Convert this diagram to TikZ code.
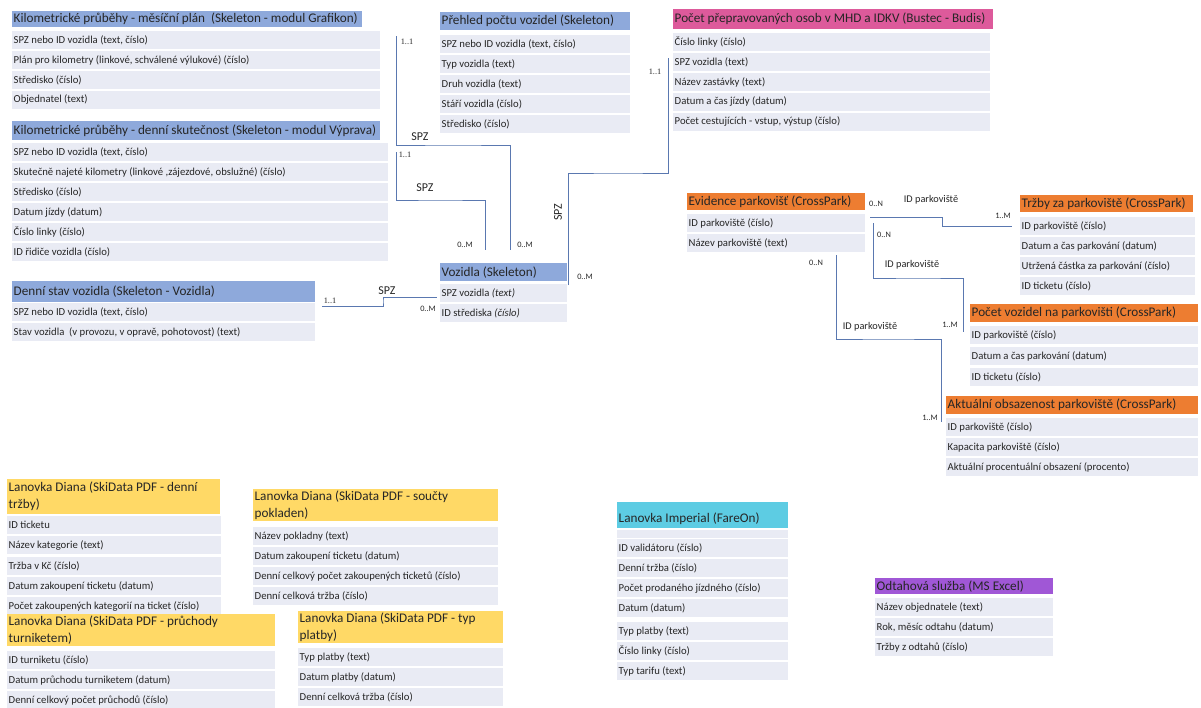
\documentclass[tikz,border=0pt]{standalone}
\usepackage{fontspec}
\setmainfont{Carlito}
\newfontfamily\myserif{Liberation Serif}
\definecolor{blueh}{HTML}{8EA9DB}
\definecolor{pinkh}{HTML}{DD5A9B}
\definecolor{orangeh}{HTML}{ED7D31}
\definecolor{yellowh}{HTML}{FFD966}
\definecolor{cyanh}{HTML}{5DCCE3}
\definecolor{purpleh}{HTML}{A057D6}
\definecolor{rowc}{HTML}{E9EBF4}
\definecolor{linec}{HTML}{5A78B0}
\definecolor{txt}{HTML}{262626}
\newcommand\myhfont{\fontsize{13.2}{17}\selectfont}
\newcommand\myrfont{\fontsize{10.7}{12}\selectfont}
\newcommand\hcell[7]{%
  \node[cellbox,fill=#6,minimum width=#4pt,minimum height=#5pt] (#1) at (#2,#3) {};
  \node[celltext,font=\myhfont] (#1t) at (#1.west) {#7};}
\newcommand\rcell[5]{%
  \node[cellbox,anchor=west,fill=rowc,minimum width=#4pt,minimum height=18.5pt] (#1) at (#2,#3) {};
  \node[celltext,font=\myrfont] (#1t) at (#1.west) {#5};}
\begin{document}
\begin{tikzpicture}[x=1pt,y=-1pt,
  cellbox/.style={rectangle,anchor=north west,inner sep=0pt,draw=none},
  celltext/.style={anchor=west,inner xsep=1.5pt,inner ysep=0pt,align=left,text=txt},
  conn/.style={draw=linec,line width=0.9pt},
  card/.style={font=\fontsize{8.3}{9}\selectfont,text=txt,inner sep=0pt},
  cards/.style={font=\fontsize{8.3}{9}\myserif\selectfont,text=txt,inner sep=0pt},
  rel/.style={font=\fontsize{12}{13}\selectfont,text=txt,inner sep=0pt},
  rels/.style={font=\fontsize{10.3}{11}\selectfont,text=txt,inner sep=0pt}]
\useasboundingbox (0,0) rectangle (1201,707);
\fill[white] (0,0) rectangle (1201,707);

% T1
\hcell{ta}{12}{10.5}{350}{16.5}{blueh}{Kilometrické průběhy - měsíční plán\ \ (Skeleton - modul Grafikon)}
\rcell{ta1}{12}{40}{368}{SPZ nebo ID vozidla (text, číslo)}
\rcell{ta2}{12}{60}{368}{Plán pro kilometry (linkové, schválené výlukové) (číslo)}
\rcell{ta3}{12}{80}{368}{Středisko (číslo)}
\rcell{ta4}{12}{100}{368}{Objednatel (text)}
% T2
\hcell{tb}{12}{121}{368}{19}{blueh}{Kilometrické průběhy - denní skutečnost (Skeleton - modul Výprava)}
\rcell{tb1}{12}{152}{376}{SPZ nebo ID vozidla (text, číslo)}
\rcell{tb2}{12}{172}{376}{Skutečně najeté kilometry (linkové ,zájezdové, obslužné) (číslo)}
\rcell{tb3}{12}{192}{376}{Středisko (číslo)}
\rcell{tb4}{12}{212}{376}{Datum jízdy (datum)}
\rcell{tb5}{12}{232}{376}{Číslo linky (číslo)}
\rcell{tb6}{12}{252}{376}{ID řidiče vozidla (číslo)}
% T3
\hcell{tc}{440}{12}{190}{18}{blueh}{Přehled počtu vozidel (Skeleton)}
\rcell{tc1}{440}{44}{190}{SPZ nebo ID vozidla (text, číslo)}
\rcell{tc2}{440}{64}{190}{Typ vozidla (text)}
\rcell{tc3}{440}{84}{190}{Druh vozidla (text)}
\rcell{tc4}{440}{104}{190}{Stáří vozidla (číslo)}
\rcell{tc5}{440}{124}{190}{Středisko (číslo)}
% T4
\hcell{td}{440}{263}{127}{18}{blueh}{Vozidla (Skeleton)}
\rcell{td1}{440}{293}{127}{SPZ vozidla \textit{(text)}}
\rcell{td2}{440}{313}{127}{ID střediska \textit{(číslo)}}
% T5
\hcell{te}{673}{9}{320}{20}{pinkh}{Počet přepravovaných osob v MHD a IDKV (Bustec - Budis)}
\rcell{te1}{673}{42}{317}{Číslo linky (číslo)}
\rcell{te2}{673}{62}{317}{SPZ vozidla (text)}
\rcell{te3}{673}{82}{317}{Název zastávky (text)}
\rcell{te4}{673}{102}{317}{Datum a čas jízdy (datum)}
\rcell{te5}{673}{122}{317}{Počet cestujících - vstup, výstup (číslo)}
% T6
\hcell{tf}{12}{281}{303}{21}{blueh}{Denní stav vozidla (Skeleton - Vozidla)}
\rcell{tf1}{12}{312}{303}{SPZ nebo ID vozidla (text, číslo)}
\rcell{tf2}{12}{332}{303}{Stav vozidla\ \ (v provozu, v opravě, pohotovost) (text)}
% T7
\hcell{tg}{7}{479}{213}{35}{yellowh}{Lanovka Diana (SkiData PDF - denní\\tržby)}
\rcell{tg1}{7}{525}{214}{ID ticketu}
\rcell{tg2}{7}{545}{214}{Název kategorie (text)}
\rcell{tg3}{7}{566}{214}{Tržba v Kč (číslo)}
\rcell{tg4}{7}{586}{214}{Datum zakoupení ticketu (datum)}
\rcell{tg5}{7}{606}{214}{Počet zakoupených kategorií na ticket (číslo)}
% T8
\hcell{th}{7}{614}{268}{32}{yellowh}{Lanovka Diana (SkiData PDF - průchody\\turniketem)}
\rcell{th1}{7}{660}{268}{ID turniketu (číslo)}
\rcell{th2}{7}{680}{268}{Datum průchodu turniketem (datum)}
\rcell{th3}{7}{700}{268}{Denní celkový počet průchodů (číslo)}
% T9
\hcell{ti}{253}{489}{245}{32}{yellowh}{Lanovka Diana (SkiData PDF - součty\\pokladen)}
\rcell{ti1}{253}{536}{245}{Název pokladny (text)}
\rcell{ti2}{253}{556}{245}{Datum zakoupení ticketu (datum)}
\rcell{ti3}{253}{576}{245}{Denní celkový počet zakoupených ticketů (číslo)}
\rcell{ti4}{253}{596}{245}{Denní celková tržba (číslo)}
% T10
\hcell{tj}{298}{611}{205}{32}{yellowh}{Lanovka Diana (SkiData PDF - typ\\platby)}
\rcell{tj1}{298}{657}{205}{Typ platby (text)}
\rcell{tj2}{298}{677}{205}{Datum platby (datum)}
\rcell{tj3}{298}{697}{205}{Denní celková tržba (číslo)}
% T11
\node[cellbox,fill=cyanh,minimum width=171pt,minimum height=26pt] (tk) at (617,502) {};
\node[celltext,font=\myhfont] (tkt) at ([yshift=-4pt]tk.west) {Lanovka Imperial (FareOn)};
\node[cellbox,fill=rowc,minimum width=171pt,minimum height=8pt] (tk0) at (617,529.5) {};
\rcell{tk1}{617}{548}{171}{ID validátoru (číslo)}
\rcell{tk2}{617}{568}{171}{Denní tržba (číslo)}
\rcell{tk3}{617}{588}{171}{Počet prodaného jízdného (číslo)}
\rcell{tk4}{617}{608}{171}{Datum (datum)}
\rcell{tk5}{617}{631}{171}{Typ platby (text)}
\rcell{tk6}{617}{651}{171}{Číslo linky (číslo)}
\rcell{tk7}{617}{671}{171}{Typ tarifu (text)}
% T12
\hcell{tl}{875}{578}{178}{16}{purpleh}{Odtahová služba (MS Excel)}
\rcell{tl1}{875}{607}{178}{Název objednatele (text)}
\rcell{tl2}{875}{627}{178}{Rok, měsíc odtahu (datum)}
\rcell{tl3}{875}{647}{178}{Tržby z odtahů (číslo)}
% T13
\hcell{tm}{687}{193}{178}{17}{orangeh}{Evidence parkovišť (CrossPark)}
\rcell{tm1}{687}{223}{178}{ID parkoviště (číslo)}
\rcell{tm2}{687}{243}{178}{Název parkoviště (text)}
% T14
\hcell{tn}{1020}{195}{173}{17}{orangeh}{Tržby za parkoviště (CrossPark)}
\rcell{tn1}{1020}{226}{175}{ID parkoviště (číslo)}
\rcell{tn2}{1020}{246}{175}{Datum a čas parkování (datum)}
\rcell{tn3}{1020}{266}{175}{Utržená částka za parkování (číslo)}
\rcell{tn4}{1020}{286}{175}{ID ticketu (číslo)}
% T15
\hcell{to}{970}{304}{228}{18}{orangeh}{Počet vozidel na parkovišti (CrossPark)}
\rcell{to1}{970}{335}{228}{ID parkoviště (číslo)}
\rcell{to2}{970}{356}{228}{Datum a čas parkování (datum)}
\rcell{to3}{970}{377}{228}{ID ticketu (číslo)}
% T16
\hcell{tp}{946}{396}{252}{18}{orangeh}{Aktuální obsazenost parkoviště (CrossPark)}
\rcell{tp1}{946}{427}{252}{ID parkoviště (číslo)}
\rcell{tp2}{946}{447}{252}{Kapacita parkoviště (číslo)}
\rcell{tp3}{946}{467}{252}{Aktuální procentuální obsazení (procento)}

% connector end points
\coordinate (c1a) at (396,36);  \coordinate (c1b) at (510,250);
\coordinate (c2a) at (396,152); \coordinate (c2b) at (485,250);
\coordinate (c3a) at (568,285); \coordinate (c3b) at (668,58);
\coordinate (c4a) at (322,306); \coordinate (c4b) at (437,297);
\coordinate (c5a) at (870,217); \coordinate (c5b) at (1012,226);
\coordinate (c6a) at (873,223); \coordinate (c6b) at (963,332);
\coordinate (c7a) at (836,255); \coordinate (c7b) at (941,422);

\draw[conn] (c1a) |- (453,145) -| (c1b);
\draw[conn] (c2a) |- (440,200) -| (c2b);
\draw[conn] (c3a) |- (618,173) -| (c3b);
\draw[conn] (c4a) -| (383,301) |- (c4b);
\draw[conn] (c5a) -| (942,221) |- (c5b);
\draw[conn] (c6a) |- (918,278) -| (c6b);
\draw[conn] (c7a) |- (888,339) -| (c7b);

% labels
\node[cards] (l1) at (407,42) {1..1};
\node[rel] (l2) at (420,137) {SPZ};
\node[card] (l3) at (525,245) {0..M};
\node[cards] (l4) at (405,155) {1..1};
\node[rel] (l5) at (425,188) {SPZ};
\node[card] (l6) at (465,245) {0..M};
\node[rel,rotate=90] (l7) at (558,212) {SPZ};
\node[cards] (l8) at (655,72) {1..1};
\node[card] (l9) at (585,277) {0..M};
\node[cards] (l10) at (330,301) {1..1};
\node[rel] (l11) at (387,291) {SPZ};
\node[card] (l12) at (428,309) {0..M};
\node[card] (l13) at (876,204) {0..N};
\node[rels] (l14) at (931,200) {ID parkoviště};
\node[card] (l15) at (1003,216) {1..M};
\node[card] (l16) at (884,235) {0..N};
\node[rels] (l17) at (912,265) {ID parkoviště};
\node[card] (l18) at (950,325) {1..M};
\node[card] (l19) at (816,263) {0..N};
\node[rels] (l20) at (870,327) {ID parkoviště};
\node[card] (l21) at (930,418) {1..M};
\end{tikzpicture}
\end{document}
